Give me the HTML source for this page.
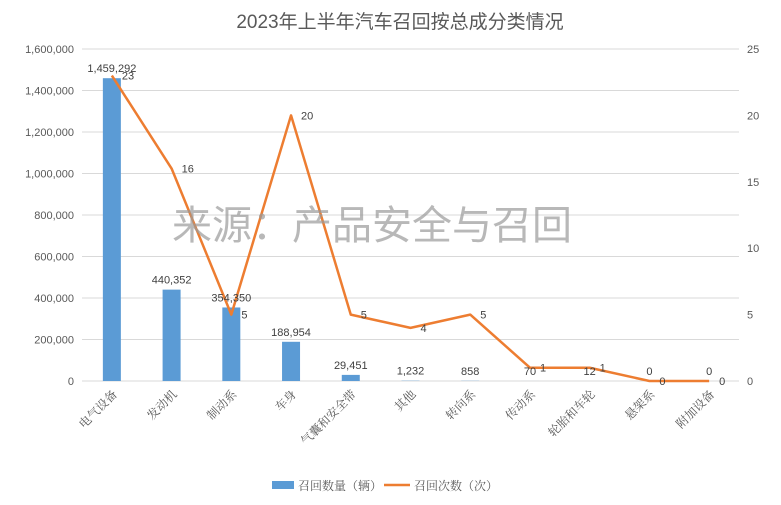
<!DOCTYPE html>
<html><head><meta charset="utf-8"><style>
body{margin:0;background:#fff}
svg text{font-family:"Liberation Sans","Noto Sans CJK SC",sans-serif}
svg text.serif{font-family:"Liberation Serif","Noto Serif CJK SC",serif}
</style></head><body>
<svg id="chart" width="781" height="500">
<text x="400" y="28" text-anchor="middle" font-size="19" fill="#595959">2023年上半年汽车召回按总成分类情况</text>
<g id="grid"></g><g id="bars"></g><g id="line"></g><g id="labels"></g>
<text x="372" y="239" text-anchor="middle" font-size="40" fill="#9a9a9a" fill-opacity="0.7">来源：产品安全与召回</text>
<g>
<rect x="272" y="481" width="22" height="8" fill="#5b9bd5"/>
<text class="serif" x="298" y="490" font-size="12" fill="#595959">召回数量（辆）</text>
<line x1="384" y1="485" x2="410" y2="485" stroke="#ed7d31" stroke-width="2.5"/>
<text class="serif" x="414" y="490" font-size="12" fill="#595959">召回次数（次）</text>
</g>
</svg>
<script>
const categories=["电气设备","发动机","制动系","车身","气囊和安全带","其他","转向系","传动系","轮胎和车轮","悬架系","附加设备"];
const counts=[1459292,440352,354350,188954,29451,1232,858,70,12,0,0];
const times=[23,16,5,20,5,4,5,1,1,0,0];
const leftTicks=[0,200000,400000,600000,800000,1000000,1200000,1400000,1600000];
const rightTicks=[0,5,10,15,20,25];
const NS="http://www.w3.org/2000/svg";
const L=82,R=739,T=49,B=381;
const step=(R-L)/categories.length;
const xc=i=>L+step*(i+0.5);
const yL=v=>B-(v/1600000)*(B-T);
const yR=v=>B-(v/25)*(B-T);
const fmt=v=>v.toLocaleString("en-US");
function mk(tag,attrs,parent,txt){const e=document.createElementNS(NS,tag);for(const k in attrs)e.setAttribute(k,attrs[k]);if(txt!==undefined)e.textContent=txt;document.getElementById(parent).appendChild(e);return e;}
leftTicks.forEach((t,i)=>{
  const g=mk("line",{x1:L,x2:R,y1:yL(t),y2:yL(t),stroke:"#d9d9d9","stroke-width":1},"grid");
  
  
  const tx=mk("text",{x:L-8,y:yL(t)+4,"text-anchor":"end","font-size":11,fill:"#595959"},"grid",fmt(t));
  
  
});
rightTicks.forEach(t=>{
  const tx=mk("text",{x:R+8,y:yR(t)+4,"font-size":11,fill:"#595959"},"grid",t);
  
  
});
categories.forEach((c,i)=>{
  const x=xc(i),y=yL(counts[i]);
  const b=mk("rect",{x:x-9,y:y,width:18,height:Math.max(B-y,0),fill:"#5b9bd5"},"bars");
  
  
  const bl=mk("text",{x:x,y:y-6,"text-anchor":"middle","font-size":11,fill:"#404040"},"labels",fmt(counts[i]));
  
  
  const xl=mk("text",{class:"serif",x:0,y:0,"text-anchor":"end","font-size":12,fill:"#595959",transform:`translate(${x+6},${B+14}) rotate(-45)`},"labels",c);
  
  
  const ll=mk("text",{x:x+10,y:yR(times[i])+4,"font-size":11,fill:"#404040"},"labels",times[i]);
  
  
});
const pts=times.map((v,i)=>xc(i)+","+yR(v)).join(" ");
const pl=mk("polyline",{points:pts,fill:"none",stroke:"#ed7d31","stroke-width":2.5,"stroke-linejoin":"round"},"line");


</script>
</body></html>
